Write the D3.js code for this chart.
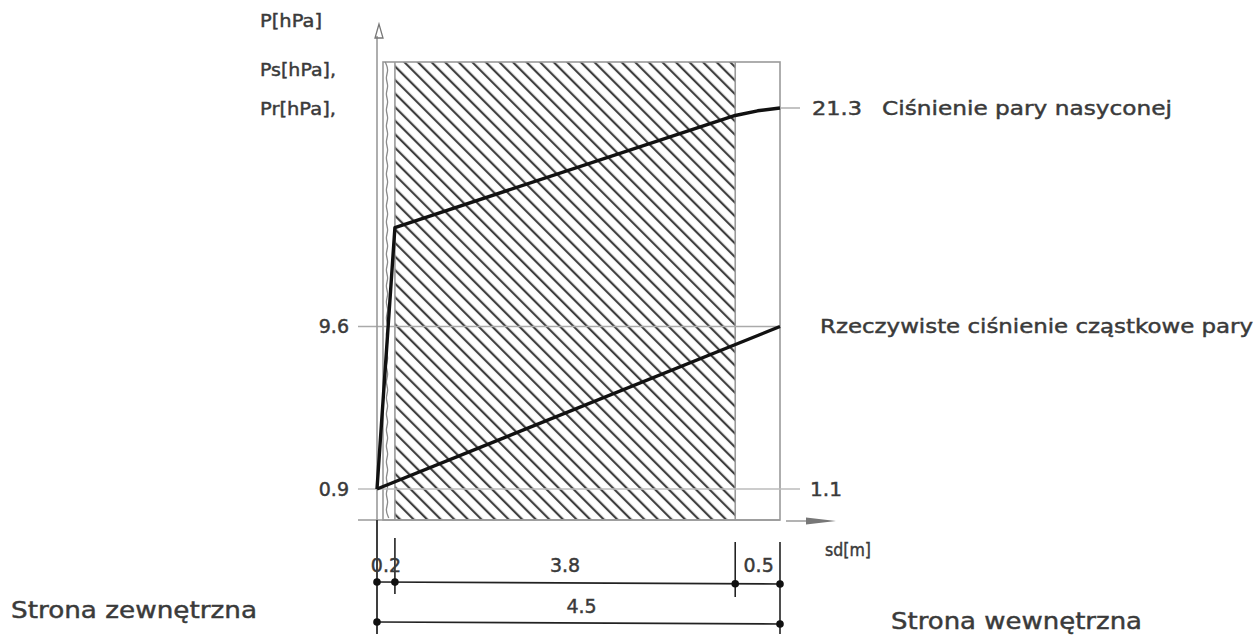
<!DOCTYPE html>
<html><head><meta charset="utf-8">
<script src="https://cdn.jsdelivr.net/npm/d3@7"></script>
<style>
body{margin:0;background:#fff}
text{font-family:"DejaVu Sans",Verdana,sans-serif;fill:#3a3a3a;stroke:#3a3a3a;stroke-width:0.45px}
</style>
</head><body><svg id="c" width="1257" height="636"></svg>
<script>
// ---- data ----
const layerThickness = [0.2, 3.8, 0.5];
const layerLabels = ["0.2", "3.8", "0.5"];
const totalThickness = 4.5;
const totalLabel = "4.5";
const psSd = [0, 0.2, 4.0, 4.25, 4.5];
const psValues = [0.9, 14.9, 20.9, 21.15, 21.3];
const prSd = [0, 4.5];
const prValues = [0.9, 9.6];
const leftTicks = [9.6, 0.9];
const leftTickLabels = ["9.6", "0.9"];
const rightTicks = [21.3, 1.1];
const rightTickLabels = ["21.3", "1.1"];
const yAxisLabels = ["P[hPa]", "Ps[hPa],", "Pr[hPa],"];
const seriesNames = ["Ciśnienie pary nasyconej", "Rzeczywiste ciśnienie cząstkowe pary"];
const xAxisLabel = "sd[m]";
const sideLabels = ["Strona zewnętrzna", "Strona wewnętrzna"];

// ---- layout ----
const svg = d3.select("#c");
const x = d3.scaleLinear().domain([0, totalThickness]).range([377, 780]);
const y = d3.scaleLinear().domain([0.9, 21.3]).range([489, 108]);
const boxTop = 62, boxBottom = 520;
const grey = "#9a9a9a";

const bounds = [0];
layerThickness.forEach((t, i) => bounds.push(+(bounds[i] + t).toFixed(3)));

// hatch pattern
const defs = svg.append("defs");
const pat = defs.append("pattern").attr("id", "hatch")
  .attr("patternUnits", "userSpaceOnUse").attr("width", 9.6).attr("height", 20)
  .attr("patternTransform", "rotate(-45)");
pat.append("line").attr("x1", 2).attr("x2", 2).attr("y1", 0).attr("y2", 20)
  .attr("stroke", "#3e3e3e").attr("stroke-width", 2.2);

// hatched main layer
svg.append("rect")
  .attr("x", x(bounds[1])).attr("y", boxTop)
  .attr("width", x(bounds[2]) - x(bounds[1])).attr("height", boxBottom - boxTop)
  .attr("fill", "url(#hatch)");

// box outline
svg.append("rect")
  .attr("x", x(0) + 6).attr("y", boxTop)
  .attr("width", x(totalThickness) - x(0) - 6).attr("height", boxBottom - boxTop)
  .attr("fill", "none").attr("stroke", grey).attr("stroke-width", 1.6);

// layer boundaries
[bounds[1], bounds[2]].forEach(b => {
  svg.append("line").attr("x1", x(b)).attr("x2", x(b)).attr("y1", boxTop).attr("y2", boxBottom)
    .attr("stroke", grey).attr("stroke-width", 1.6);
});

// wavy line (thin plaster layer)
const wavyX = x(0) + 10;
const wavy = d3.range(boxTop, boxBottom + 1, 8).map((yy, i) => [wavyX + (i % 2 ? 1.8 : -1.8), yy]);
svg.append("path").attr("d", d3.line().curve(d3.curveBasis)(wavy))
  .attr("fill", "none").attr("stroke", "#8a8a8a").attr("stroke-width", 1.3);

// horizontal reference lines
svg.append("line").attr("x1", 358).attr("x2", 800).attr("y1", y(0.9)).attr("y2", y(0.9))
  .attr("stroke", "#bbb").attr("stroke-width", 1.3);
svg.append("line").attr("x1", 358).attr("x2", x(totalThickness)).attr("y1", y(9.6)).attr("y2", y(9.6))
  .attr("stroke", "#aaa").attr("stroke-width", 1.4);
svg.append("line").attr("x1", x(totalThickness)).attr("x2", 800).attr("y1", y(21.3)).attr("y2", y(21.3))
  .attr("stroke", "#aaa").attr("stroke-width", 1.4);

// axes
svg.append("line").attr("x1", x(0)).attr("x2", x(0)).attr("y1", 36).attr("y2", 634)
  .attr("stroke", grey).attr("stroke-width", 1.6);
svg.append("path").attr("d", `M${x(0)+2},24 L${x(0)-2},38 L${x(0)+6},38 Z`)
  .attr("fill", "none").attr("stroke", "#777").attr("stroke-width", 1.3);
svg.append("line").attr("x1", 358).attr("x2", x(totalThickness)).attr("y1", boxBottom).attr("y2", boxBottom)
  .attr("stroke", grey).attr("stroke-width", 1.6);
svg.append("line").attr("x1", 786).attr("x2", 822).attr("y1", boxBottom + 1).attr("y2", boxBottom + 1)
  .attr("stroke", grey).attr("stroke-width", 1.6);
svg.append("path").attr("d", `M806,${boxBottom-2.5} L836,${boxBottom+1} L806,${boxBottom+4.5} Z`)
  .attr("fill", "#777");

// series lines
const line = d3.line().x(d => x(d[0])).y(d => y(d[1]));
svg.append("path").attr("d", line(psSd.map((s, i) => [s, psValues[i]])))
  .attr("fill", "none").attr("stroke", "#111").attr("stroke-width", 3.4).attr("stroke-linejoin", "round");
svg.append("path").attr("d", line(prSd.map((s, i) => [s, prValues[i]])))
  .attr("fill", "none").attr("stroke", "#111").attr("stroke-width", 3.4);

// text helper
function txt(str, px, py, size, anchor, len) {
  const t = svg.append("text").attr("x", px).attr("y", py).attr("font-size", size)
    .attr("dominant-baseline", "middle").attr("text-anchor", anchor || "start").text(str);
  if (len) t.attr("textLength", len).attr("lengthAdjust", "spacingAndGlyphs");
  return t;
}

// y axis labels
txt(yAxisLabels[0], 260, 22, 18, "start", 62);
txt(yAxisLabels[1], 260, 71, 18, "start", 76);
txt(yAxisLabels[2], 260, 110, 18, "start", 76);

// tick labels
leftTicks.forEach((v, i) => txt(leftTickLabels[i], 349, y(v) + 1, 19, "end"));
txt(rightTickLabels[0], 812, y(rightTicks[0]) + 1, 19, "start", 50);
txt(rightTickLabels[1], 810, y(rightTicks[1]) + 5, 19, "start", 32);

// series names
txt(seriesNames[0], 882, y(21.3) + 1, 20, "start", 290);
txt(seriesNames[1], 820, y(9.6) + 1, 20, "start", 433);

txt(xAxisLabel, 825, 551, 18, "start", 46);

// dimension lines
const dimY1 = 582, dimY2 = 622;
const dimG = svg.append("g").attr("stroke", "#222").attr("stroke-width", 1.6);
dimG.append("line").attr("x1", x(0)).attr("x2", x(totalThickness)).attr("y1", dimY1).attr("y2", dimY1 + 2);
dimG.append("line").attr("x1", x(0)).attr("x2", x(totalThickness)).attr("y1", dimY2).attr("y2", dimY2 + 2);
const tickSpans = [[520, 634], [538, 594], [542, 597], [542, 634]];
bounds.forEach((b, i) => {
  dimG.append("line").attr("x1", x(b)).attr("x2", x(b)).attr("y1", tickSpans[i][0]).attr("y2", tickSpans[i][1]);
});
bounds.forEach((b, i) => {
  svg.append("circle").attr("cx", x(b)).attr("cy", dimY1 + 2 * b / totalThickness).attr("r", 3.8).attr("fill", "#111");
});
[0, totalThickness].forEach(b => {
  svg.append("circle").attr("cx", x(b)).attr("cy", dimY2 + 2 * b / totalThickness).attr("r", 3.8).attr("fill", "#111");
});
layerThickness.forEach((t, i) => {
  txt(layerLabels[i], x(bounds[i] + t / 2) + (i === 2 ? 1 : 0), 566, 19, "middle");
});
txt(totalLabel, x(totalThickness / 2) + 3, 607, 19, "middle");

// side labels
txt(sideLabels[0], 11, 611, 23, "start", 246);
txt(sideLabels[1], 891, 622, 23, "start", 251);
</script></body></html>
